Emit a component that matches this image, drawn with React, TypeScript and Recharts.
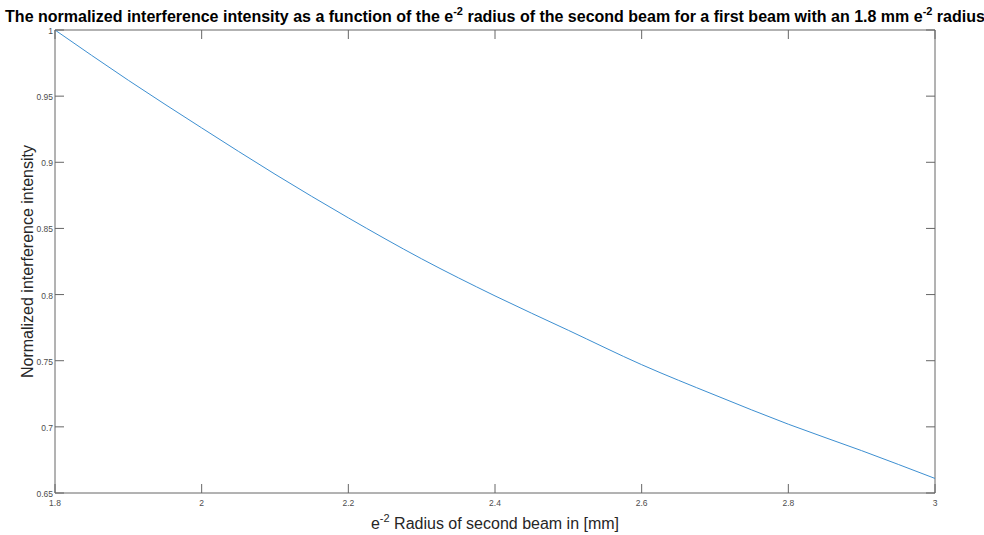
import React from 'react';
import { LineChart, Line, XAxis, YAxis, ReferenceArea } from 'recharts';

const radius = [1.8, 1.9, 2.0, 2.1, 2.2, 2.3, 2.4, 2.5, 2.6, 2.7, 2.8, 2.9, 3.0];
const intensity = [1.0, 0.962, 0.926, 0.891, 0.858, 0.827, 0.799, 0.773, 0.747, 0.724, 0.702, 0.682, 0.661];
const xTicks = [1.8, 2, 2.2, 2.4, 2.6, 2.8, 3];
const yTicks = [0.65, 0.7, 0.75, 0.8, 0.85, 0.9, 0.95, 1];

const data = radius.map((r, i) => ({ r, v: intensity[i] }));

const W = 984;
const H = 535;
const PL = 55;
const PR = 935;
const PT = 30;
const PB = 493;
const TICK = 9;
const AXIS = '#666666';
const TXT = '#4d4d4d';
const FONT = 'Liberation Sans, Arial, Helvetica, sans-serif';

const XTick = (props: any) => {
  const { x, y, payload } = props;
  return (
    <g>
      <line x1={x} y1={y} x2={x} y2={y - TICK} stroke={AXIS} strokeWidth={1} />
      <line x1={x} y1={PT} x2={x} y2={PT + TICK} stroke={AXIS} strokeWidth={1} />
      <text x={x} y={y + 13} textAnchor="middle" fontSize={8.5} fill={TXT} fontFamily={FONT}>
        {String(payload.value)}
      </text>
    </g>
  );
};

const YTick = (props: any) => {
  const { x, y, payload } = props;
  return (
    <g>
      <line x1={x} y1={y} x2={x + TICK} y2={y} stroke={AXIS} strokeWidth={1} />
      <line x1={PR} y1={y} x2={PR - TICK} y2={y} stroke={AXIS} strokeWidth={1} />
      <text x={x - 2} y={y + 4} textAnchor="end" fontSize={8.5} fill={TXT} fontFamily={FONT}>
        {String(payload.value)}
      </text>
    </g>
  );
};

export default function App() {
  return (
    <div style={{ position: 'absolute', left: 0, top: 0, width: W, height: H, background: '#fff' }}>
      <LineChart width={W} height={H} data={data} margin={{ top: PT, right: W - PR, bottom: 0, left: 0 }}>
        <XAxis
          dataKey="r"
          type="number"
          domain={[1.8, 3]}
          ticks={xTicks}
          interval={0}
          height={H - PB}
          tickSize={0}
          tickMargin={0}
          tickLine={false}
          axisLine={false}
          tick={<XTick />}
          allowDataOverflow
        />
        <YAxis
          type="number"
          domain={[0.65, 1]}
          ticks={yTicks}
          interval={0}
          width={PL}
          tickSize={0}
          tickMargin={0}
          tickLine={false}
          axisLine={false}
          tick={<YTick />}
          allowDataOverflow
        />
        <ReferenceArea x1={1.8} x2={3} y1={0.65} y2={1} fill="none" stroke={AXIS} strokeWidth={1} />
        <Line
          dataKey="v"
          type="monotone"
          stroke="#3d8fd1"
          strokeWidth={1}
          dot={false}
          isAnimationActive={false}
        />
      </LineChart>
      <svg
        width={W}
        height={H}
        style={{ position: 'absolute', left: 0, top: 0, pointerEvents: 'none' }}
      >
        <text x={495} y={22} textAnchor="middle" fontSize={16} fontWeight="bold" fill="#000" fontFamily={FONT}>
          The normalized interference intensity as a function of the e
          <tspan dy={-7} fontSize={11}>-2</tspan>
          <tspan dy={7}> radius of the second beam for a first beam with an 1.8 mm e</tspan>
          <tspan dy={-7} fontSize={11}>-2</tspan>
          <tspan dy={7}> radius</tspan>
        </text>
        <text
          transform={`translate(33, ${(PT + PB) / 2}) rotate(-90)`}
          textAnchor="middle"
          fontSize={16}
          fill="#262626"
          fontFamily={FONT}
        >
          Normalized interference intensity
        </text>
        <text x={(PL + PR) / 2} y={529} textAnchor="middle" fontSize={16} fill="#262626" fontFamily={FONT}>
          e
          <tspan dy={-7} fontSize={11}>-2</tspan>
          <tspan dy={7}> Radius of second beam in [mm]</tspan>
        </text>
      </svg>
    </div>
  );
}
